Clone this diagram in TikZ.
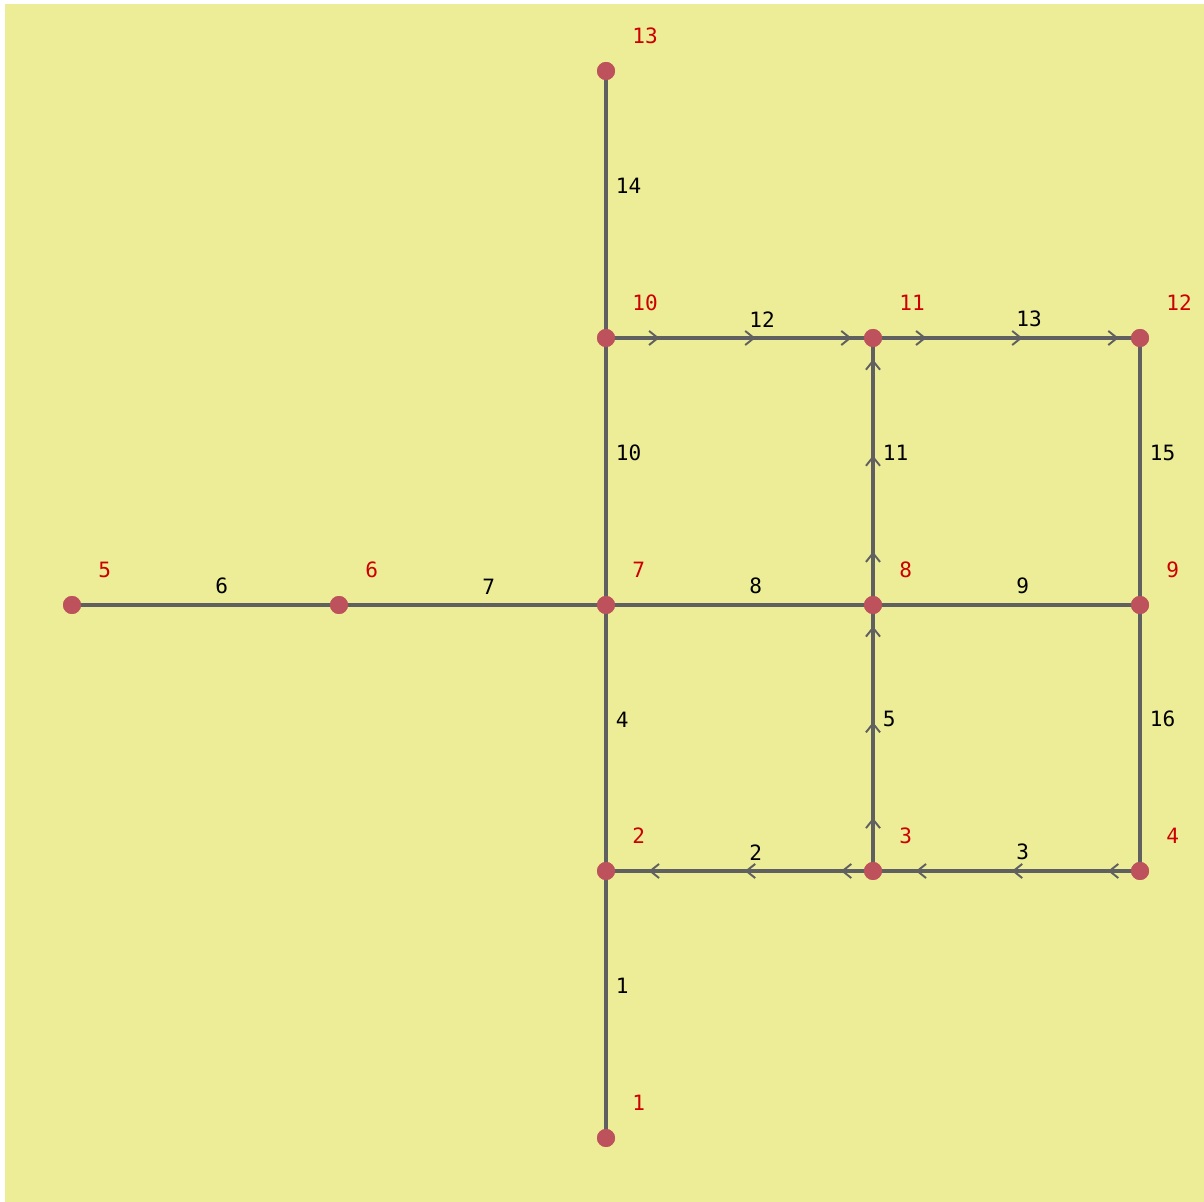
\documentclass[tikz,border=0pt]{standalone}
\usepackage{fontspec}
\setmainfont{DejaVu Sans Mono}
\usetikzlibrary{arrows.meta,decorations.markings}
\definecolor{paper}{RGB}{237,237,152}
\definecolor{vertfill}{RGB}{190,82,92}
\definecolor{edgegray}{RGB}{96,96,96}
\definecolor{namered}{RGB}{204,0,0}
\begin{document}
\begin{tikzpicture}[x=0.02cm, y=-0.02cm,
  >={Straight Barb[length=5pt,width=8pt,line width=1.1pt]},
  every node/.style={font=\fontsize{12}{14}\selectfont},
  vert/.style={circle, fill=vertfill, minimum size=0.36cm, inner sep=0pt},
  vname/.style={text=namered, inner sep=0pt, label distance=0pt, xshift=0.39cm, yshift=0.41cm},
  elab/.style={anchor=south west, inner sep=0pt, xshift=0.16cm, yshift=0.18cm},
  edge/.style={draw=edgegray, line width=2.2pt},
  fwd/.style={edge, postaction={decorate}, decoration={markings,
    mark=at position 0.2 with {\arrow[edgegray]{>}},
    mark=at position 0.56 with {\arrow[edgegray]{>}},
    mark=at position 0.92 with {\arrow[edgegray]{>}}}},
  bwd/.style={edge, postaction={decorate}, decoration={markings,
    mark=at position 0.12 with {\arrow[edgegray]{>}},
    mark=at position 0.48 with {\arrow[edgegray]{>}},
    mark=at position 0.84 with {\arrow[edgegray]{>}}}}]
\useasboundingbox (0,0) rectangle (1204,1202);
\fill[paper] (5,4) rectangle (1204,1202);
% vertices
\node[vert, label={[vname]45:1}]  (n1)  at (606,1138) {};
\node[vert, label={[vname]45:2}]  (n2)  at (606,871)  {};
\node[vert, label={[vname]45:3}]  (n3)  at (873,871)  {};
\node[vert, label={[vname]45:4}]  (n4)  at (1140,871) {};
\node[vert, label={[vname]45:5}]  (n5)  at (72,605)   {};
\node[vert, label={[vname]45:6}]  (n6)  at (339,605)  {};
\node[vert, label={[vname]45:7}]  (n7)  at (606,605)  {};
\node[vert, label={[vname]45:8}]  (n8)  at (873,605)  {};
\node[vert, label={[vname]45:9}]  (n9)  at (1140,605) {};
\node[vert, label={[vname]45:10}] (n10) at (606,338)  {};
\node[vert, label={[vname]45:11}] (n11) at (873,338)  {};
\node[vert, label={[vname]45:12}] (n12) at (1140,338) {};
\node[vert, label={[vname]45:13}] (n13) at (606,71)   {};
% edges
\path[edge] (n1.center) -- node[elab]{1} (n2.center);
\path[bwd]  (n3.center) -- node[elab]{2} (n2.center);
\path[bwd]  (n4.center) -- node[elab]{3} (n3.center);
\path[edge] (n2.center) -- node[elab]{4} (n7.center);
\path[fwd]  (n3.center) -- node[elab]{5} (n8.center);
\path[edge] (n5.center) -- node[elab]{6} (n6.center);
\path[edge] (n6.center) -- node[elab]{7} (n7.center);
\path[edge] (n7.center) -- node[elab]{8} (n8.center);
\path[edge] (n8.center) -- node[elab]{9} (n9.center);
\path[edge] (n7.center) -- node[elab]{10} (n10.center);
\path[fwd]  (n8.center) -- node[elab]{11} (n11.center);
\path[fwd]  (n10.center) -- node[elab]{12} (n11.center);
\path[fwd]  (n11.center) -- node[elab]{13} (n12.center);
\path[edge] (n10.center) -- node[elab]{14} (n13.center);
\path[edge] (n9.center) -- node[elab]{15} (n12.center);
\path[edge] (n4.center) -- node[elab]{16} (n9.center);
% dots back on top of the lines
\foreach \v in {n1,n2,n3,n4,n5,n6,n7,n8,n9,n10,n11,n12,n13}
  \fill[vertfill] (\v) circle (0.18cm);
\end{tikzpicture}
\end{document}
